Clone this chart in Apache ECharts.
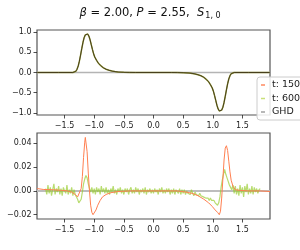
<!DOCTYPE html>
<html><head><meta charset="utf-8">
<script src="https://cdn.jsdelivr.net/npm/echarts@6/dist/echarts.min.js"></script>
<style>html,body{margin:0;padding:0;background:#fff}#c{width:300px;height:250px}</style>
</head><body><div id="c"></div>
<script>
// ---- data ----
const xTicks = [-1.5, -1.0, -0.5, 0.0, 0.5, 1.0, 1.5];
const topYTicks = [-1.0, -0.5, 0.0, 0.5, 1.0];
const botYTicks = [-0.02, 0.00, 0.02, 0.04];

// top panel: profile (all series overlap)
const topX = [-1.96,-1.6,-1.36,-1.33,-1.31,-1.29,-1.27,-1.25,-1.23,-1.21,-1.19,-1.17,-1.15,-1.13,-1.11,-1.09,-1.07,-1.05,-1.03,-1.01,-0.99,-0.96,-0.93,-0.89,-0.85,-0.80,-0.75,-0.70,-0.65,-0.60,-0.50,-0.40,-0.30,
  0.30,0.40,0.50,0.60,0.65,0.70,0.75,0.80,0.85,0.89,0.93,0.96,0.99,1.01,1.03,1.05,1.07,1.09,1.11,1.13,1.15,1.17,1.19,1.21,1.23,1.25,1.27,1.29,1.31,1.33,1.36,1.6,1.96];
const topY = [0,0,0,0.01,0.03,0.08,0.16,0.28,0.43,0.59,0.74,0.86,0.93,0.96,0.95,0.90,0.81,0.69,0.57,0.46,0.38,0.30,0.23,0.17,0.12,0.08,0.055,0.035,0.022,0.013,0.005,0.002,0,
  0,-0.002,-0.005,-0.013,-0.022,-0.035,-0.055,-0.08,-0.12,-0.17,-0.23,-0.30,-0.38,-0.46,-0.57,-0.69,-0.81,-0.90,-0.95,-0.96,-0.93,-0.86,-0.74,-0.59,-0.43,-0.28,-0.16,-0.08,-0.03,-0.01,0,0,0];
const zeroX = [-1.965, 1.965];
const zeroY = [0, 0];

// bottom panel: t: 150
const t150X = [-1.965,-1.85,-1.70,-1.55,-1.45,-1.38,-1.32,-1.28,-1.25,-1.22,-1.20,-1.18,-1.16,-1.15,-1.14,-1.12,-1.10,-1.08,-1.06,-1.04,-1.02,-1.00,-0.97,-0.94,-0.90,-0.86,-0.80,-0.72,-0.60,-0.40,
  0.40,0.55,0.65,0.75,0.85,0.93,0.99,1.04,1.08,1.11,1.13,1.15,1.17,1.19,1.21,1.23,1.25,1.27,1.29,1.31,1.34,1.38,1.45,1.60,1.80,1.965];
const t150Y = [0.002,0.0012,0.001,0.0005,0.0,-0.001,-0.003,-0.005,-0.004,0.002,0.012,0.028,0.041,0.045,0.044,0.033,0.015,0.000,-0.012,-0.018,-0.020,-0.019,-0.016,-0.012,-0.008,-0.005,-0.003,-0.0015,-0.0005,0.0,
  0.0,-0.001,-0.002,-0.004,-0.007,-0.010,-0.013,-0.016,-0.018,-0.020,-0.017,-0.006,0.010,0.026,0.036,0.038,0.034,0.025,0.016,0.009,0.004,0.001,0.0005,0.0,0.0,-0.0005];

// bottom panel: t: 600 (noisy)
const t600X = [-1.82,-1.80,-1.78,-1.76,-1.74,-1.72,-1.70,-1.68,-1.66,-1.64,-1.62,-1.60,-1.58,-1.56,-1.54,-1.52,-1.50,-1.48,-1.46,-1.44,-1.42,-1.40,-1.38,-1.36,-1.34,-1.32,-1.30,-1.28,-1.26,-1.24,-1.22,-1.20,-1.18,-1.16,-1.14,-1.12,-1.10,-1.08,-1.06,-1.04,-1.02,-1.00,-0.98,-0.96,-0.94,-0.92,-0.90,-0.88,-0.86,-0.84,-0.82,-0.80,-0.78,-0.76,-0.74,-0.72,-0.70,-0.68,-0.66,-0.64,-0.62,-0.60,-0.58,-0.56,-0.54,-0.52,-0.50,-0.48,-0.46,-0.44,-0.42,-0.40,-0.38,-0.36,-0.34,-0.32,-0.30,-0.28,-0.26,-0.24,-0.22,-0.20,-0.18,-0.16,-0.14,-0.12,-0.10,-0.08,-0.06,-0.04,-0.02,
  0.00,0.02,0.04,0.06,0.08,0.10,0.12,0.14,0.16,0.18,0.20,0.22,0.24,0.26,0.28,0.30,0.32,0.34,0.36,0.38,0.40,0.42,0.44,0.46,0.48,0.50,0.52,0.54,0.56,0.58,0.60,0.62,0.64,0.66,0.68,0.70,0.72,0.74,0.76,0.78,0.80,0.82,0.84,0.86,0.88,0.90,0.92,0.94,0.96,0.98,1.00,1.02,1.04,1.06,1.08,1.10,1.12,1.14,1.16,1.18,1.20,1.22,1.24,1.26,1.28,1.30,1.32,1.34,1.36,1.38,1.40,1.42,1.44,1.46,1.48,1.50,1.52,1.54,1.56,1.58,1.60,1.62,1.64,1.66,1.68,1.70,1.72,1.74,1.76,1.78,1.80,1.82];
const t600Y = [0.002,-0.003,0.005,-0.002,0.003,-0.004,0.001,0.006,-0.003,0.002,-0.001,0.004,-0.003,0.002,-0.004,0.003,0.000,-0.002,0.005,-0.003,0.001,-0.002,0.003,-0.004,0.001,-0.003,-0.004,-0.007,-0.010,-0.011,-0.007,-0.001,0.006,0.010,0.013,0.011,0.006,0.002,-0.001,0.003,-0.002,0.002,-0.003,0.003,-0.001,0.002,-0.003,0.004,-0.001,0.002,-0.002,0.003,-0.002,0.001,-0.003,0.002,-0.001,0.004,-0.002,0.001,-0.003,0.002,-0.001,0.003,-0.002,0.001,-0.003,0.002,-0.001,0.002,-0.003,0.001,0.003,-0.002,0.001,-0.002,0.003,-0.001,0.002,-0.003,0.001,-0.001,0.002,-0.002,0.003,-0.003,0.001,-0.001,0.002,-0.002,0.001,
  -0.002,0.002,-0.001,0.001,-0.003,0.002,-0.001,0.003,-0.002,0.001,-0.002,0.002,-0.001,0.002,-0.003,0.001,-0.002,0.002,-0.003,0.001,0.000,-0.002,0.002,-0.003,0.001,-0.002,0.001,-0.003,0.000,-0.002,-0.001,-0.003,0.001,-0.002,-0.004,-0.001,-0.003,-0.002,-0.004,-0.002,-0.004,-0.003,-0.005,-0.004,-0.006,-0.005,-0.006,-0.008,-0.006,-0.008,-0.009,-0.008,-0.010,-0.009,-0.012,-0.010,-0.005,0.003,0.009,0.014,0.018,0.014,0.011,0.008,0.005,0.003,0.001,0.005,-0.002,0.004,-0.003,0.002,-0.004,0.005,-0.002,0.003,-0.005,0.004,-0.001,0.006,-0.003,0.002,-0.002,0.004,-0.003,0.003,-0.001,0.002,-0.002,0.001,0.002];

const zip = (xs, ys) => xs.map((x, i) => [x, ys[i]]);

const FONT = 'DejaVu Sans';
const minus = s => s.replace('-', '\u2212');
const XMIN = -1.965, XMAX = 1.965;

// data x-axes (no labels) and separate label-only x-axes on overlaid grids
function xAxisCfg(gi, withLabels) {
  return {
    type: 'value', gridIndex: gi, min: XMIN, max: XMAX, position: 'bottom',
    axisLine: { show: false, onZero: false }, splitLine: { show: false },
    axisTick: { show: withLabels, length: 3.5, lineStyle: { color: '#222', width: 0.8 }, customValues: xTicks },
    axisLabel: { show: withLabels, fontFamily: FONT, fontSize: 8, color: '#222', margin: 6.5, customValues: xTicks,
      formatter: v => minus(v.toFixed(1)) }
  };
}
function yAxisCfg(gi, min, max, ticks, dec, withLabels) {
  return {
    type: 'value', gridIndex: gi, min: min, max: max, position: 'left',
    axisLine: { show: false, onZero: false }, splitLine: { show: false },
    axisTick: { show: withLabels, length: 3.5, lineStyle: { color: '#222', width: 0.8 }, customValues: ticks },
    axisLabel: { show: withLabels, fontFamily: FONT, fontSize: 8, color: '#222', margin: 5.5, customValues: ticks,
      formatter: v => minus(v.toFixed(dec)) }
  };
}

const gTop = { left: 37, top: 30, width: 233, height: 85 };
const gBot = { left: 37, top: 133, width: 233, height: 86 };
const frame = { show: true, borderColor: '#555', borderWidth: 1.2, backgroundColor: 'transparent', outerBoundsMode: 'none' };

const chart = echarts.init(document.getElementById('c'), null, { renderer: 'canvas' });
chart.setOption({
  animation: false,
  title: {
    text: '{i|\u03b2} = 2.00, {i|P} = 2.55,  {i|S}{s|1, 0}',
    left: 'center', top: 2,
    textStyle: {
      fontFamily: FONT, fontSize: 11.5, fontWeight: 'normal', color: '#111',
      rich: {
        i: { fontFamily: FONT, fontSize: 11.5, fontStyle: 'italic', color: '#111' },
        s: { fontFamily: FONT, fontSize: 8, color: '#111', padding: [5, 0, 0, 1] }
      }
    }
  },
  legend: {
    orient: 'vertical', left: 257, top: 77,
    data: ['t: 150', 't: 600', 'GHD'],
    icon: 'rect', itemWidth: 4, itemHeight: 1.5, itemGap: 3.5,
    padding: [3, 8, 3, 4],
    backgroundColor: 'rgba(255,255,255,0.85)', borderColor: '#cccccc', borderWidth: 1, borderRadius: 3,
    textStyle: { fontFamily: FONT, fontSize: 9.5, color: '#222', padding: [0, 0, 0, 2] },
    z: 20
  },
  grid: [
    Object.assign({}, gTop, frame),
    Object.assign({}, gBot, frame),
    Object.assign({}, gTop, { show: false, outerBoundsMode: 'none' }),
    Object.assign({}, gBot, { show: false, outerBoundsMode: 'none' })
  ],
  xAxis: [xAxisCfg(0, false), xAxisCfg(1, false), xAxisCfg(2, true), xAxisCfg(3, true)],
  yAxis: [
    yAxisCfg(0, -1.05, 1.05, topYTicks, 1, true),
    yAxisCfg(1, -0.0236, 0.0487, botYTicks, 2, true),
    yAxisCfg(2, -1.05, 1.05, topYTicks, 1, false),
    yAxisCfg(3, -0.0236, 0.0487, botYTicks, 2, false)
  ],
  series: [
    { type: 'line', xAxisIndex: 0, yAxisIndex: 0, data: zip(zeroX, zeroY), showSymbol: false,
      lineStyle: { color: '#b4b4b4', width: 1.6 }, silent: true },
    { type: 'line', xAxisIndex: 0, yAxisIndex: 0, data: zip(topX, topY), showSymbol: false,
      lineStyle: { color: '#9aa040', width: 1.5 }, silent: true },
    { type: 'line', xAxisIndex: 0, yAxisIndex: 0, data: zip(topX, topY), showSymbol: false,
      lineStyle: { color: '#3e3418', width: 0.9 }, silent: true },

    { name: 'GHD', type: 'line', xAxisIndex: 1, yAxisIndex: 1, data: zip(zeroX, zeroY), showSymbol: false,
      itemStyle: { color: '#a0a0a0' }, lineStyle: { color: '#bdbdbd', width: 2 } },
    { name: 't: 600', type: 'line', xAxisIndex: 1, yAxisIndex: 1, data: zip(t600X, t600Y), showSymbol: false,
      itemStyle: { color: '#c9e07a' }, lineStyle: { color: '#9acd32', width: 1.2, opacity: 0.7 } },
    { name: 't: 150', type: 'line', xAxisIndex: 1, yAxisIndex: 1, data: zip(t150X, t150Y), showSymbol: false,
      itemStyle: { color: '#ff8a60' }, lineStyle: { color: '#ff7f50', width: 1.0 } }
  ]
});
</script>
</body></html>
